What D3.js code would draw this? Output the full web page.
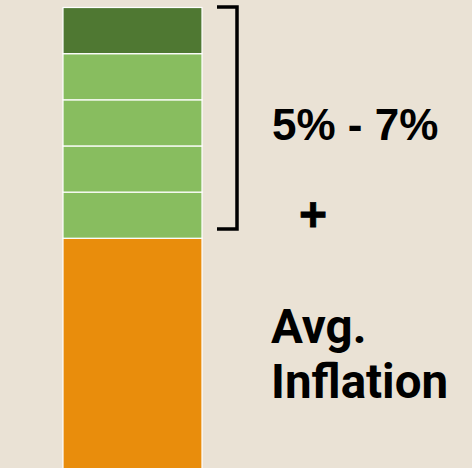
<!DOCTYPE html>
<html>
<head>
<meta charset="utf-8">
<script src="https://cdn.jsdelivr.net/npm/d3@7"></script>
<style>
  html, body { margin: 0; padding: 0; background: #EAE2D5; }
  svg { display: block; }
</style>
</head>
<body>
<script>
// stacked segments, bottom to top
const segments = ["Avg. Inflation", "Return 1", "Return 2", "Return 3", "Return 4", "Return 5"];
const values = [5, 1, 1, 1, 1, 1];
const colors = ["#E98D0C", "#88BD5F", "#88BD5F", "#88BD5F", "#88BD5F", "#4F7832"];
const rangeLabel = "5% - 7%";
const baseLabel = ["Avg.", "Inflation"];

const W = 472, H = 468;
const svg = d3.select("body").append("svg")
  .attr("width", W)
  .attr("height", H);

let acc = 0;
const stack = values.map((v, i) => {
  const d = { name: segments[i], y0: acc, y1: acc + v, color: colors[i] };
  acc += v;
  return d;
});

const y = d3.scaleLinear().domain([0, d3.sum(values)]).range([469, 7.5]);
const x = d3.scaleBand().domain(["bar"]).range([63, 202]);

svg.selectAll("rect.seg")
  .data(stack)
  .join("rect")
  .attr("class", "seg")
  .attr("x", x("bar"))
  .attr("width", x.bandwidth())
  .attr("y", d => y(d.y1))
  .attr("height", d => y(d.y0) - y(d.y1))
  .attr("fill", d => d.color)
  .attr("stroke", "#fff")
  .attr("stroke-width", 1.2);

// bracket around the green part
const bTop = 7, bBot = 229;
svg.append("path")
  .attr("d", `M217,${bTop} H237 V${bBot} H217`)
  .attr("fill", "none")
  .attr("stroke", "#000")
  .attr("stroke-width", 3.5);

svg.append("text")
  .attr("x", 272)
  .attr("y", 140)
  .attr("font-family", "Liberation Sans, Arial, sans-serif")
  .attr("font-weight", "bold")
  .attr("font-size", 44)
  .text(rangeLabel);

svg.append("text")
  .attr("x", 313)
  .attr("y", 231)
  .attr("text-anchor", "middle")
  .attr("font-family", "Liberation Sans, Arial, sans-serif")
  .attr("font-weight", "bold")
  .attr("font-size", 48)
  .attr("stroke", "#000")
  .attr("stroke-width", 0.8)
  .text("+");

svg.append("g")
  .selectAll("text")
  .data(baseLabel)
  .join("text")
  .attr("x", 271)
  .attr("y", (d, i) => 343 + i * 55)
  .attr("font-family", "Roboto, sans-serif")
  .attr("font-weight", "bold")
  .attr("font-size", 47.5)
  .text(d => d);
</script>
</body>
</html>
